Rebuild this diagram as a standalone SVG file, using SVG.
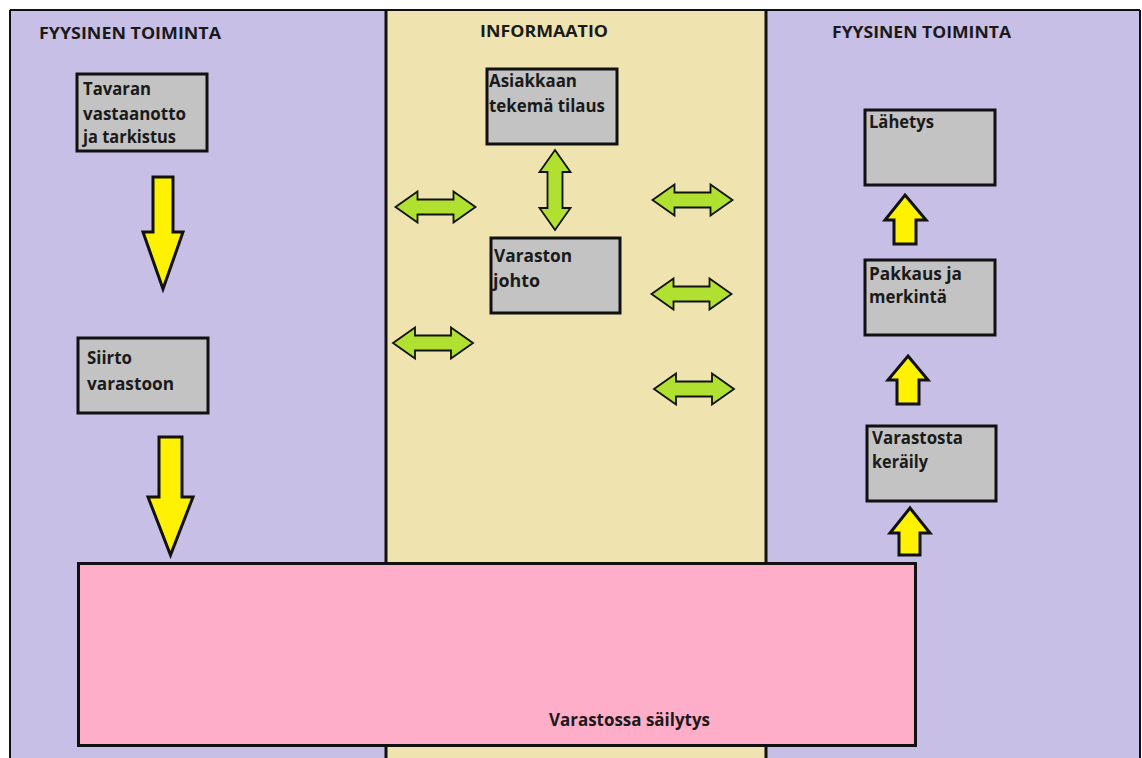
<svg xmlns="http://www.w3.org/2000/svg" width="1142" height="758" viewBox="0 0 1142 758">
<style>
.lane-p{fill:#c8bfe7}
.lane-t{fill:#efe4b0}
.div{stroke:#111;stroke-width:3}
.box{fill:#c3c3c3;stroke:#111;stroke-width:3}
.store{fill:#ffaec9;stroke:#111;stroke-width:3}
.t{font-family:"Open Sans","Liberation Sans",sans-serif;font-weight:bold;font-size:18px;fill:#1a1a1a}
.h{font-family:"Open Sans","Liberation Sans",sans-serif;font-weight:bold;font-size:16.5px;fill:#1a1a1a}
.ya{fill:#fff200;stroke:#111;stroke-width:3;stroke-linejoin:miter}
.ga{fill:#b0e030;stroke:#111;stroke-width:1.8;stroke-linejoin:miter}
</style>
<defs>
<path id="dbl" d="M-40 0 L-18 -15.5 L-18 -7.5 L18 -7.5 L18 -15.5 L40 0 L18 15.5 L18 7.5 L-18 7.5 L-18 15.5 Z"/>
</defs>
<rect x="0" y="0" width="1142" height="758" fill="#ffffff"/>
<g id="lanes">
<rect class="lane-p" x="10" y="10" width="376" height="748"/>
<rect class="lane-t" x="386" y="10" width="380" height="748"/>
<rect class="lane-p" x="766" y="10" width="374" height="748"/>
<line x1="10" y1="10" x2="1140" y2="10" stroke="#111" stroke-width="2"/>
<line x1="10" y1="10" x2="10" y2="758" stroke="#111" stroke-width="2"/>
<line x1="1140" y1="10" x2="1140" y2="758" stroke="#111" stroke-width="2"/>
<line class="div" x1="386" y1="10" x2="386" y2="758"/>
<line class="div" x1="766" y1="10" x2="766" y2="758"/>
<text class="h" x="39" y="39" textLength="182" lengthAdjust="spacingAndGlyphs">FYYSINEN TOIMINTA</text>
<text class="h" x="480" y="37" textLength="128" lengthAdjust="spacingAndGlyphs">INFORMAATIO</text>
<text class="h" x="832" y="38" textLength="179" lengthAdjust="spacingAndGlyphs">FYYSINEN TOIMINTA</text>
</g>
<g id="storage">
<rect class="store" x="78.5" y="563.5" width="837" height="182"/>
<text class="t" x="549" y="726" textLength="161" lengthAdjust="spacingAndGlyphs">Varastossa säilytys</text>
</g>
<g id="n-vastaanotto">
<rect class="box" x="77" y="74" width="130" height="77"/>
<text class="t" x="83" y="95" textLength="68" lengthAdjust="spacingAndGlyphs">Tavaran</text>
<text class="t" x="83" y="120" textLength="103" lengthAdjust="spacingAndGlyphs">vastaanotto</text>
<text class="t" x="83" y="143" textLength="93" lengthAdjust="spacingAndGlyphs">ja tarkistus</text>
</g>
<g id="n-siirto">
<rect class="box" x="78" y="338" width="130" height="75"/>
<text class="t" x="87" y="364" textLength="45" lengthAdjust="spacingAndGlyphs">Siirto</text>
<text class="t" x="87" y="390" textLength="87" lengthAdjust="spacingAndGlyphs">varastoon</text>
</g>
<g id="n-tilaus">
<rect class="box" x="487" y="69" width="130" height="75"/>
<text class="t" x="489" y="87" textLength="88" lengthAdjust="spacingAndGlyphs">Asiakkaan</text>
<text class="t" x="489" y="112" textLength="116" lengthAdjust="spacingAndGlyphs">tekemä tilaus</text>
</g>
<g id="n-johto">
<rect class="box" x="491" y="238" width="129" height="75"/>
<text class="t" x="494" y="262" textLength="78" lengthAdjust="spacingAndGlyphs">Varaston</text>
<text class="t" x="493" y="287" textLength="47" lengthAdjust="spacingAndGlyphs">johto</text>
</g>
<g id="n-lahetys">
<rect class="box" x="865" y="110" width="130" height="75"/>
<text class="t" x="869" y="128" textLength="65" lengthAdjust="spacingAndGlyphs">Lähetys</text>
</g>
<g id="n-pakkaus">
<rect class="box" x="865" y="260" width="130" height="75"/>
<text class="t" x="869" y="280" textLength="93" lengthAdjust="spacingAndGlyphs">Pakkaus ja</text>
<text class="t" x="869" y="303" textLength="78" lengthAdjust="spacingAndGlyphs">merkintä</text>
</g>
<g id="n-keraily">
<rect class="box" x="867" y="426" width="129" height="75"/>
<text class="t" x="872" y="444" textLength="91" lengthAdjust="spacingAndGlyphs">Varastosta</text>
<text class="t" x="872" y="468" textLength="56" lengthAdjust="spacingAndGlyphs">keräily</text>
</g>
<g id="connectors">
<path class="ya" d="M153 177 H173 V232 H183 L163 289 L143 232 H153 Z"/>
<path class="ya" d="M159 437 H182 V497 H193 L170.5 555 L148 497 H159 Z"/>
<path class="ya" d="M905 195 L926 220 H916 V244 H894 V220 H885 Z"/>
<path class="ya" d="M908 356 L928 380 H919 V404 H897 V380 H888 Z"/>
<path class="ya" d="M910 508 L930 533 H920 V555 H899 V533 H890 Z"/>
<use class="ga" href="#dbl" transform="translate(435.5 207)"/>
<use class="ga" href="#dbl" transform="translate(433 343)"/>
<use class="ga" href="#dbl" transform="translate(692.5 200)"/>
<use class="ga" href="#dbl" transform="translate(691.5 294)"/>
<use class="ga" href="#dbl" transform="translate(694 389)"/>
<use class="ga" href="#dbl" transform="translate(555 190) rotate(90)"/>
</g>
</svg>
